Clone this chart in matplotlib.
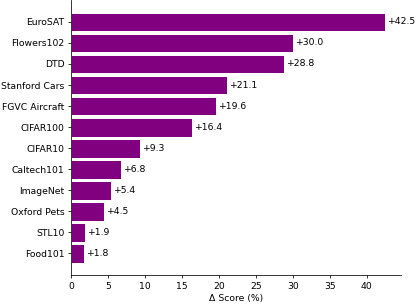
import numpy as np
import matplotlib.pyplot as plt

datasets = ['EuroSAT', 'Flowers102', 'DTD', 'Stanford Cars', 'FGVC Aircraft', 'CIFAR100',
            'CIFAR10', 'Caltech101', 'ImageNet', 'Oxford Pets', 'STL10', 'Food101']
delta = np.array([42.5, 30.0, 28.8, 21.1, 19.6, 16.4, 9.3, 6.8, 5.4, 4.5, 1.9, 1.8])

fs = 6.7
fig, ax = plt.subplots(figsize=(4.16, 3.05), dpi=100)
fig.subplots_adjust(left=0.171, right=0.964, top=1.0, bottom=0.098)
bars = ax.barh(datasets, delta, color='purple', edgecolor='white', linewidth=0.7, height=0.9)
ax.invert_yaxis()
for b, v in zip(bars, delta):
    ax.text(b.get_width() + 0.25, b.get_y() + b.get_height() / 2, f'+{v:.1f}',
            va='center', ha='left', fontsize=fs)
ax.set_xlim(0, delta.max() * 1.05)
ax.set_xlabel('Δ Score (%)', fontsize=fs, labelpad=2.3)
ax.tick_params(labelsize=fs, length=2.35, width=0.55, pad=2.3)
for s in ['left', 'bottom']:
    ax.spines[s].set_linewidth(0.55)
ax.spines['top'].set_visible(False)
ax.spines['right'].set_visible(False)
fig.savefig('out.png', dpi=100)
